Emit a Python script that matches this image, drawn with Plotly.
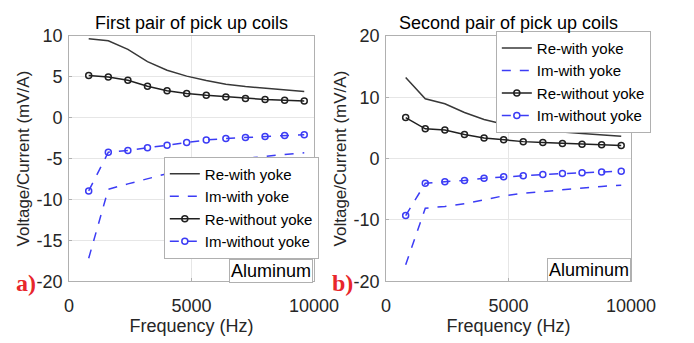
import plotly.graph_objects as go

freq = [800, 1600, 2400, 3200, 4000, 4800, 5600, 6400, 7200, 8000, 8800, 9600]

# First pair of pick up coils
a_re_with = [9.65, 9.4, 8.35, 6.85, 5.8, 5.08, 4.54, 4.1, 3.8, 3.58, 3.35, 3.2]
a_im_with = [-17.2, -8.75, -8.1, -7.5, -6.85, -6.15, -5.65, -5.27, -4.96, -4.73, -4.5, -4.3]
a_re_without = [5.15, 4.96, 4.58, 3.85, 3.3, 2.96, 2.73, 2.54, 2.35, 2.23, 2.12, 2.04]
a_im_without = [-8.96, -4.23, -4.0, -3.69, -3.38, -3.04, -2.73, -2.54, -2.42, -2.31, -2.19, -2.08]

# Second pair of pick up coils
b_re_with = [13.2, 9.75, 8.93, 7.5, 6.38, 5.6, 5.05, 4.64, 4.34, 4.08, 3.88, 3.62]
b_im_with = [-17.3, -8.1, -7.8, -7.35, -6.73, -6.07, -5.66, -5.36, -5.05, -4.85, -4.54, -4.34]
b_re_without = [6.68, 4.85, 4.64, 3.93, 3.37, 3.06, 2.76, 2.6, 2.45, 2.35, 2.24, 2.14]
b_im_without = [-9.3, -4.03, -3.78, -3.57, -3.21, -2.96, -2.81, -2.6, -2.45, -2.3, -2.2, -2.05]

names = ["Re-with yoke", "Im-with yoke", "Re-without yoke", "Im-without yoke"]
titles = ["First pair of pick up coils", "Second pair of pick up coils"]
x_ticks = [0, 5000, 10000]
x_ticktext = ["0", "5000", "10000"]
ya_ticks = [-20, -15, -10, -5, 0, 5, 10]
ya_ticktext = ["-20", "-15", "-10", "-5", "0", "5", "10"]
yb_ticks = [-20, -10, 0, 10, 20]
yb_ticktext = ["-20", "-10", "0", "10", "20"]

DARK = "#383838"
BLACK = "#202020"
BLUE = "#3c3cf5"
TXT = "#262626"
FONT = "Liberation Sans, Arial, sans-serif"

fig = go.Figure()

def add_set(re_w, im_w, re_wo, im_wo, xa, ya, leg):
    fig.add_trace(go.Scatter(x=freq, y=re_w, mode="lines", name=names[0],
                             line=dict(color=DARK, width=1.5), xaxis=xa, yaxis=ya, legend=leg))
    fig.add_trace(go.Scatter(x=freq, y=im_w, mode="lines", name=names[1],
                             line=dict(color=BLUE, width=1.5, dash="dash"), xaxis=xa, yaxis=ya, legend=leg))
    fig.add_trace(go.Scatter(x=freq, y=re_wo, mode="lines+markers", name=names[2],
                             line=dict(color=BLACK, width=1.5),
                             marker=dict(symbol="circle-open", size=6, color=BLACK, line=dict(width=1.5)),
                             xaxis=xa, yaxis=ya, legend=leg))
    fig.add_trace(go.Scatter(x=freq, y=im_wo, mode="lines+markers", name=names[3],
                             line=dict(color=BLUE, width=1.5, dash="dash"),
                             marker=dict(symbol="circle-open", size=6, color=BLUE, line=dict(width=1.5)),
                             xaxis=xa, yaxis=ya, legend=leg))

add_set(a_re_with, a_im_with, a_re_without, a_im_without, "x", "y", "legend")
add_set(b_re_with, b_im_with, b_re_without, b_im_without, "x2", "y2", "legend2")

W, H = 694, 343
ybot = (H - 288) / H
ytop = (H - 27.5) / H

axis_common = dict(showgrid=True, gridcolor="#e6e6e6", gridwidth=1, zeroline=False,
                   showline=True, linecolor="#b0b0b0", linewidth=1, mirror=True,
                   ticks="inside", ticklen=3, tickcolor="#b0b0b0",
                   tickfont=dict(family=FONT, size=18, color=TXT))

xt = dict(text="Frequency (Hz)", font=dict(size=18, family=FONT, color=TXT), standoff=2)
yt = dict(text="Voltage/Current (mV/A)", font=dict(size=17, family=FONT, color=TXT), standoff=2)

fig.update_layout(
    width=W, height=H,
    margin=dict(l=0, r=0, t=0, b=0),
    paper_bgcolor="white", plot_bgcolor="white",
    font=dict(family=FONT, color=TXT),
    xaxis=dict(domain=[67 / W, 323 / W], range=[0, 10000], tickvals=x_ticks, ticktext=x_ticktext,
               title=xt, anchor="y", ticklabelstandoff=8, **axis_common),
    yaxis=dict(domain=[ybot, ytop], range=[-20, 10], tickvals=ya_ticks, ticktext=ya_ticktext,
               title=yt, anchor="x", ticklabelstandoff=2, **axis_common),
    xaxis2=dict(domain=[398.3 / W, 654.3 / W], range=[0, 10000], tickvals=x_ticks, ticktext=x_ticktext,
                title=xt, anchor="y2", ticklabelstandoff=8, **axis_common),
    yaxis2=dict(domain=[ybot, ytop], range=[-20, 20], tickvals=yb_ticks, ticktext=yb_ticktext,
                title=yt, anchor="x2", ticklabelstandoff=2, **axis_common),
    legend=dict(x=328 / W, y=(H - 264) / H, xanchor="right", yanchor="bottom",
                bgcolor="white", bordercolor="#b0b0b0", borderwidth=1,
                font=dict(family=FONT, size=15, color="black"), tracegroupgap=0,
                itemwidth=30),
    legend2=dict(x=675 / W, y=(H - 22) / H, xanchor="right", yanchor="top",
                 bgcolor="white", bordercolor="#b0b0b0", borderwidth=1,
                 font=dict(family=FONT, size=15, color="black"), tracegroupgap=0,
                 itemwidth=30),
    showlegend=True,
)

annotations = [
    dict(text=titles[0], x=(67 + 323) / 2 / W, y=(H - 14) / H, xref="paper", yref="paper",
         showarrow=False, font=dict(family=FONT, size=18, color="black"), xanchor="center", yanchor="middle"),
    dict(text=titles[1], x=(398.3 + 654.3) / 2 / W, y=(H - 14) / H, xref="paper", yref="paper",
         showarrow=False, font=dict(family=FONT, size=18, color="black"), xanchor="center", yanchor="middle"),
    dict(text="Aluminum", x=322 / W, y=(H - 290) / H, xref="paper", yref="paper",
         xanchor="right", yanchor="bottom", showarrow=False, bgcolor="white",
         bordercolor="#b0b0b0", borderwidth=1, borderpad=1,
         font=dict(family=FONT, size=18, color="black")),
    dict(text="Aluminum", x=654 / W, y=(H - 289) / H, xref="paper", yref="paper",
         xanchor="right", yanchor="bottom", showarrow=False, bgcolor="white",
         bordercolor="#b0b0b0", borderwidth=1, borderpad=1,
         font=dict(family=FONT, size=18, color="black")),
    dict(text="<b>a)</b>", x=34 / W, y=(H - 290) / H, xref="paper", yref="paper",
         xanchor="right", yanchor="middle", showarrow=False,
         font=dict(family="Liberation Serif, Times New Roman, serif", size=24, color="#e8262b")),
    dict(text="<b>b)</b>", x=366 / W, y=(H - 290) / H, xref="paper", yref="paper",
         xanchor="right", yanchor="middle", showarrow=False,
         font=dict(family="Liberation Serif, Times New Roman, serif", size=24, color="#e8262b")),
]
fig.update_layout(annotations=annotations)

fig.write_html("out.html")
